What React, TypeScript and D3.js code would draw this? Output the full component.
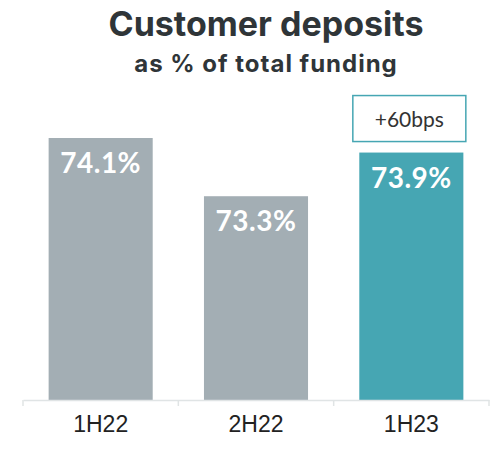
import React, { useEffect, useRef } from 'react';
import * as d3 from 'd3';

const categories = ['1H22', '2H22', '1H23'];
const values = [74.1, 73.3, 73.9];
const highlight = '1H23';
const yDomain = [70.5, 74.1];
const changeLabel = '+60bps';

const W = 497;
const H = 449;

function App() {
    const ref = useRef<SVGSVGElement>(null);

    useEffect(() => {
        const svg = d3.select(ref.current);
        svg.selectAll('*').remove();

        const baseline = 400;
        const x = d3.scaleBand<string>()
            .domain(categories)
            .range([23, 489])
            .paddingInner(0.33)
            .paddingOuter(0.165);
        const y = d3.scaleLinear().domain(yDomain).range([baseline, 138]);
        const data = categories.map((c, i) => ({ c, v: values[i] }));

        // title
        svg.append('text')
            .attr('x', 266).attr('y', 36)
            .attr('text-anchor', 'middle')
            .attr('font-family', 'Inter, Lato, sans-serif')
            .attr('font-weight', 700)
            .attr('font-size', 34)
            .attr('fill', '#2f3538')
            .text('Customer deposits');
        svg.append('text')
            .attr('x', 266).attr('y', 72)
            .attr('text-anchor', 'middle')
            .attr('font-family', 'Inter, Lato, sans-serif')
            .attr('font-weight', 700)
            .attr('font-size', 24)
            .attr('letter-spacing', 1)
            .attr('fill', '#2f3538')
            .text('as % of total funding');

        // bars
        svg.selectAll('.bar')
            .data(data)
            .enter().append('rect')
            .attr('x', d => x(d.c)!)
            .attr('y', d => y(d.v))
            .attr('width', x.bandwidth())
            .attr('height', d => baseline - y(d.v))
            .attr('fill', d => d.c === highlight ? '#46a6b3' : '#a3aeb4');

        svg.selectAll('.val')
            .data(data)
            .enter().append('text')
            .attr('x', d => x(d.c)! + x.bandwidth() / 2)
            .attr('y', d => y(d.v) + 35)
            .attr('text-anchor', 'middle')
            .attr('font-family', 'Lato, sans-serif')
            .attr('font-weight', 700)
            .attr('font-size', 28)
            .attr('letter-spacing', 0.5)
            .attr('fill', '#ffffff')
            .text(d => d.v.toFixed(1) + '%');

        // axis
        const axis = svg.append('g')
            .attr('transform', `translate(0,${baseline})`)
            .call(d3.axisBottom(x).tickSize(0).tickSizeOuter(0).tickPadding(20));
        axis.select('.domain').attr('stroke', '#e0e4e5').attr('stroke-width', 1.5);
        axis.selectAll('.tick text')
            .attr('font-family', '"Liberation Sans", Arial, sans-serif')
            .attr('font-size', 23)
            .attr('fill', '#222222')
            .attr('dy', '0.71em')
            .attr('y', 16);
        const edges = categories.map(c => x(c)! - x.step() * x.paddingInner() / 2)
            .concat([x(categories[categories.length - 1])! + x.bandwidth() + x.step() * x.paddingInner() / 2]);
        axis.selectAll('.edge')
            .data(edges)
            .enter().append('line')
            .attr('x1', d => d).attr('x2', d => d)
            .attr('y1', 0).attr('y2', 6)
            .attr('stroke', '#e0e4e5')
            .attr('stroke-width', 1.5);

        // change box
        const hx = x(highlight)! + x.bandwidth() / 2;
        const hv = values[categories.indexOf(highlight)];
        const boxW = 113, boxH = 46;
        const boxBottom = y(hv) - 11;
        svg.append('rect')
            .attr('x', hx - boxW / 2 - 2)
            .attr('y', boxBottom - boxH)
            .attr('width', boxW)
            .attr('height', boxH)
            .attr('fill', '#ffffff')
            .attr('stroke', '#46a6b3')
            .attr('stroke-width', 1.5);
        svg.append('text')
            .attr('x', hx - 2)
            .attr('y', boxBottom - 15)
            .attr('text-anchor', 'middle')
            .attr('font-family', 'Lato, sans-serif')
            .attr('font-size', 21)
            .attr('fill', '#333333')
            .text(changeLabel);
    }, []);

    return (
        <svg ref={ref} width={W} height={H} viewBox={`0 0 ${W} ${H}`}
            style={{ position: 'absolute', left: 0, top: 0 }} />
    );
}

export default App;
